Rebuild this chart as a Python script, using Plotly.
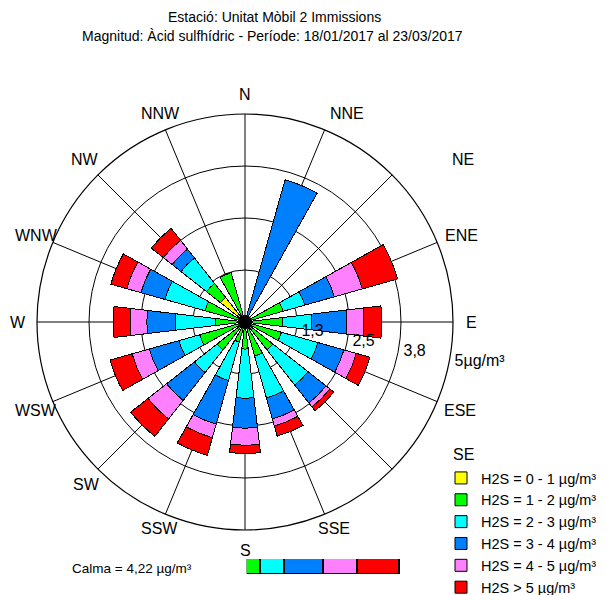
import plotly.graph_objects as go

# ---- data ----
directions = ["N", "NNE", "NE", "ENE", "E", "ESE", "SE", "SSE",
              "S", "SSW", "SW", "WSW", "W", "WNW", "NW", "NNW"]
dir_angles = [0, 22.5, 45, 67.5, 90, 112.5, 135, 157.5,
              180, 202.5, 225, 247.5, 270, 292.5, 315, 337.5]

class_names = ["H2S = 0 - 1 µg/m³", "H2S = 1 - 2 µg/m³", "H2S = 2 - 3 µg/m³",
               "H2S = 3 - 4 µg/m³", "H2S = 4 - 5 µg/m³", "H2S > 5 µg/m³"]
class_colors = ["#FFFF00", "#00FF00", "#00FFFF", "#0080FF", "#FF80FF", "#FF0000"]

# segment lengths per class (in radial units, outer ring = 5) per direction
yellow = [0, 0, 0, 0, 0, 0, 0, 0, 0, 0, 0, 0, 0, 0, 0.75, 0]
green  = [0, 0, 0, 0.95, 0.91, 0.91, 0.85, 0.85, 0.65, 0.50, 0.85, 1.13, 0.72, 1.00, 0.43, 1.23]
cyan   = [0, 0, 0, 0.54, 0.70, 0.91, 1.08, 1.05, 1.18, 0.96, 0.70, 0.52, 0.96, 1.00, 0.78, 0]
blue   = [0, 3.55, 0, 0.74, 0.84, 0.65, 0.55, 0.52, 0.72, 1.09, 0.85, 0.74, 0.68, 0.60, 0.27, 0]
pink   = [0, 0, 0, 0.70, 0.41, 0.31, 0.12, 0.18, 0.41, 0.34, 0.57, 0.43, 0.40, 0.35, 0.27, 0]
red    = [0, 0, 0, 0.88, 0.43, 0.34, 0.12, 0.25, 0.20, 0.44, 0.53, 0.55, 0.41, 0.40, 0.37, 0]
series = [yellow, green, cyan, blue, pink, red]

ring_vals = [1.25, 2.5, 3.75, 5]
ring_labels = ["1,3", "2,5", "3,8", "5µg/m³"]

calm_value = 4.22
calm_shares = [0, 9, 16, 25, 22.5, 27.5]

title_lines = ["Estació: Unitat Mòbil 2 Immissions",
               "Magnitud: Àcid sulfhídric - Període: 18/01/2017 al 23/03/2017"]

# ---- layout constants (pixels) ----
FONT = "Liberation Sans, Arial, sans-serif"
W, H = 612, 595
CX, CY, R = 245, 322, 208
# centre of each compass label, in pixels of the page
LABEL_PX = {"N": (245, 95), "NNE": (347, 113), "NE": (463, 160), "ENE": (461, 236),
            "E": (471, 322), "ESE": (460, 410), "SE": (463, 455), "SSE": (334, 528),
            "S": (245, 550), "SSW": (159, 528), "SW": (86, 484), "WSW": (36, 410),
            "W": (18, 322), "WNW": (36, 236), "NW": (85, 160), "NNW": (160, 113)}


def px(x, y):
    return x / W, 1 - y / H


fig = go.Figure()

for i, (name, col, vals) in enumerate(zip(class_names, class_colors, series)):
    fig.add_trace(go.Barpolar(
        r=vals, theta=dir_angles, width=13.5, name=name,
        marker=dict(color=col, line=dict(color="black", width=1)),
        legendgroup=f"g{i}", showlegend=True,
    ))

# centre hub
fig.add_trace(go.Scatterpolar(r=[0], theta=[0], mode="markers",
                              marker=dict(color="black", size=14),
                              showlegend=False, hoverinfo="skip"))
# ring labels (just outside each ring, ~11 deg below east); the invisible
# marker only gives the text a small gap from the ring
fig.add_trace(go.Scatterpolar(r=ring_vals, theta=[101] * len(ring_vals),
                              mode="markers+text", text=ring_labels,
                              marker=dict(size=7, color="rgba(0,0,0,0)"),
                              textposition="middle right", cliponaxis=False,
                              textfont=dict(family=FONT, size=16, color="black"),
                              showlegend=False, hoverinfo="skip"))

# calm bar
for i, (col, v) in enumerate(zip(class_colors, calm_shares)):
    if v <= 0:
        continue
    fig.add_trace(go.Bar(x=[v], y=["calm"], orientation="h",
                         marker=dict(color=col, line=dict(color="black", width=1.5)),
                         showlegend=False, xaxis="x", yaxis="y", hoverinfo="skip"))

cx0, cy1 = px(CX - R, CY - R)
cx1, cy0 = px(CX + R, CY + R)

annotations = [
    dict(text=title_lines[0], x=274 / W, y=1 - 16.5 / H, xanchor="center"),
    dict(text=title_lines[1], x=272.5 / W, y=1 - 36 / H, xanchor="center"),
    dict(text=f"Calma = {calm_value:.2f}".replace(".", ",") + " µg/m³",
         x=70 / W, y=1 - 568 / H, xanchor="left",
         font=dict(family=FONT, size=13.5, color="black")),
]
for d in directions:
    lx, ly = px(*LABEL_PX[d])
    annotations.append(dict(text=d, x=lx, y=ly, xanchor="center",
                            font=dict(family=FONT, size=16, color="black")))
for a in annotations:
    a.update(xref="paper", yref="paper", yanchor="middle", showarrow=False)
    a.setdefault("font", dict(family=FONT, size=14, color="black"))

fig.update_layout(
    width=W, height=H,
    margin=dict(l=0, r=0, t=0, b=0, pad=0, autoexpand=False),
    paper_bgcolor="white", plot_bgcolor="white",
    font=dict(family=FONT, size=14, color="black"),
    polar=dict(
        domain=dict(x=[cx0, cx1], y=[cy0, cy1]),
        bgcolor="white",
        barmode="stack",
        angularaxis=dict(rotation=90, direction="clockwise",
                         tickmode="array", tickvals=dir_angles, ticktext=directions,
                         showticklabels=False, ticks="",
                         showline=True, linecolor="black", linewidth=1.2,
                         showgrid=True, gridcolor="black", gridwidth=1),
        radialaxis=dict(range=[0, 5], tickmode="array", tickvals=ring_vals,
                        showticklabels=False, showline=False, ticks="",
                        showgrid=True, gridcolor="black", gridwidth=1),
    ),
    barmode="stack",
    xaxis=dict(domain=[246.7 / W, 400 / W], range=[0, 100], visible=False, fixedrange=True),
    yaxis=dict(domain=[1 - 574 / H, 1 - 559 / H], visible=False, fixedrange=True),
    bargap=0,
    showlegend=True,
    legend=dict(x=441 / W, xanchor="left", y=1 - 462 / H, yanchor="top",
                font=dict(family=FONT, size=14.5, color="black"),
                bgcolor="rgba(0,0,0,0)", tracegroupgap=0, itemclick=False),
    annotations=annotations,
)

fig.write_html("out.html", config={"displayModeBar": False},
               post_script="document.body.style.margin='0px';document.body.style.padding='0px';")
